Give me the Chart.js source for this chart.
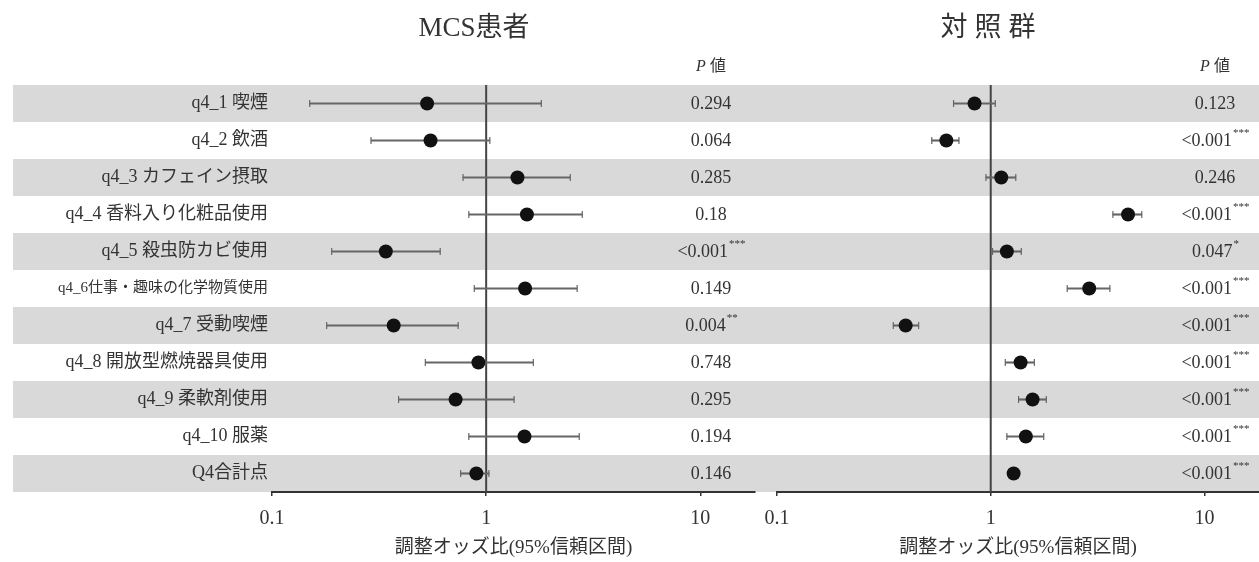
<!DOCTYPE html>
<html>
<head>
<meta charset="utf-8">
<script src="https://cdn.jsdelivr.net/npm/chart.js@4"></script>
<style>
  body { margin: 0; background: #fff; }
  #wrap { position: relative; width: 1259px; height: 562px; }
  .panel { position: absolute; top: 0; height: 562px; }
</style>
</head>
<body>
<div id="wrap">
  <div class="panel" style="left:0;width:760px"><canvas id="mcsCanvas"></canvas></div>
  <div class="panel" style="left:760px;width:499px"><canvas id="ctrlCanvas"></canvas></div>
</div>
<script>
// row labels (top to bottom)
const rowLabels = ['q4_1 喫煙', 'q4_2 飲酒', 'q4_3 カフェイン摂取', 'q4_4 香料入り化粧品使用',
    'q4_5 殺虫防カビ使用', 'q4_6仕事・趣味の化学物質使用', 'q4_7 受動喫煙', 'q4_8 開放型燃焼器具使用',
    'q4_9 柔軟剤使用', 'q4_10 服薬', 'Q4合計点'];

// MCS patients : odds ratio + 95% CI
const mcsOR   = [0.53, 0.55, 1.40, 1.55, 0.34, 1.52, 0.37, 0.92, 0.72, 1.51, 0.90];
const mcsLow  = [0.15, 0.29, 0.78, 0.83, 0.19, 0.88, 0.18, 0.52, 0.39, 0.83, 0.76];
const mcsHigh = [1.81, 1.04, 2.47, 2.81, 0.61, 2.66, 0.74, 1.66, 1.35, 2.72, 1.03];
const mcsP     = ['0.294', '0.064', '0.285', '0.18', '<0.001', '0.149', '0.004', '0.748', '0.295', '0.194', '0.146'];
const mcsStars = ['', '', '', '', '***', '', '**', '', '', '', ''];

// control group
const ctrlOR   = [0.84, 0.62, 1.12, 4.39, 1.19, 2.89, 0.40, 1.38, 1.57, 1.46, 1.28];
const ctrlLow  = [0.67, 0.53, 0.95, 3.73, 1.02, 2.28, 0.35, 1.17, 1.35, 1.19, 1.24];
const ctrlHigh = [1.05, 0.71, 1.31, 5.09, 1.39, 3.61, 0.46, 1.60, 1.82, 1.77, 1.32];
const ctrlP     = ['0.123', '<0.001', '0.246', '<0.001', '0.047', '<0.001', '<0.001', '<0.001', '<0.001', '<0.001', '<0.001'];
const ctrlStars = ['', '***', '', '***', '*', '***', '***', '***', '***', '***', '***'];

// x axis
const xTicks = [0.1, 1, 10];
const xMin = 0.1;
const xMax = 18;
const axisTitle = '調整オッズ比(95%信頼区間)';

const FONT = "'Liberation Serif', 'Noto Sans CJK JP', serif";
const TEXT = '#333';

function makePanel(canvasId, title, titleX, titleSpacing, ors, lows, highs, pvals, stars, showLabels) {
    // draws bands, reference line, caps and the text columns
    const forestPlugin = {
        id: 'forest',
        beforeDraw(chart) {
            const c = chart.ctx, y = chart.scales.y;
            const half = (y.getPixelForValue(1) - y.getPixelForValue(0)) / 2;
            const left = showLabels ? 13 : 0;
            c.save();
            c.fillStyle = '#d9d9d9';
            rowLabels.forEach((lab, i) => {
                if (i % 2 === 0) {
                    const py = y.getPixelForValue(i);
                    c.fillRect(left, py - half, chart.width - left, half * 2);
                }
            });
            c.restore();
        },
        beforeDatasetsDraw(chart) {
            const c = chart.ctx, x = chart.scales.x, y = chart.scales.y, a = chart.chartArea;
            c.save();
            // line at OR = 1
            c.strokeStyle = '#444';
            c.lineWidth = 2;
            c.beginPath();
            c.moveTo(x.getPixelForValue(1), a.top);
            c.lineTo(x.getPixelForValue(1), a.bottom);
            c.stroke();
            // whisker caps
            c.strokeStyle = '#666';
            c.lineWidth = 1.2;
            lows.forEach((lo, i) => {
                const py = y.getPixelForValue(i);
                [lo, highs[i]].forEach(v => {
                    const px = x.getPixelForValue(v);
                    c.beginPath();
                    c.moveTo(px, py - 3.5);
                    c.lineTo(px, py + 3.5);
                    c.stroke();
                });
            });
            c.restore();
        },
        afterDraw(chart) {
            const c = chart.ctx, y = chart.scales.y, a = chart.chartArea;
            const colX = a.right - 44;
            c.save();
            c.fillStyle = TEXT;
            c.textBaseline = 'middle';
            // panel title
            c.textAlign = 'center';
            c.font = '27px ' + FONT;
            c.letterSpacing = titleSpacing + 'px';
            c.fillText(title, titleX + titleSpacing / 2, 29);
            c.letterSpacing = '0px';
            // P値 header
            c.textAlign = 'left';
            c.font = 'italic 16px ' + FONT;
            const wP = c.measureText('P').width;
            c.font = '16px ' + FONT;
            const wV = c.measureText(' 値').width;
            let sx = colX - (wP + wV) / 2;
            c.font = 'italic 16px ' + FONT;
            c.fillText('P', sx, 67);
            c.font = '16px ' + FONT;
            c.fillText(' 値', sx + wP, 67);
            // p values
            pvals.forEach((p, i) => {
                const py = y.getPixelForValue(i);
                c.font = '18px ' + FONT;
                const w1 = c.measureText(p).width;
                c.font = '11px ' + FONT;
                const w2 = c.measureText(stars[i]).width;
                const start = colX - (w1 + w2) / 2;
                c.font = '18px ' + FONT;
                c.fillText(p, start, py + 1);
                c.font = '11px ' + FONT;
                c.fillText(stars[i], start + w1 + 1, py - 7);
            });
            c.restore();
        }
    };

    return new Chart(document.getElementById(canvasId), {
        type: 'bar',
        data: {
            labels: rowLabels,
            datasets: [{
                type: 'line',
                indexAxis: 'y',
                data: ors,
                showLine: false,
                pointRadius: 7,
                pointHoverRadius: 7,
                pointBackgroundColor: '#111',
                pointBorderWidth: 0,
                order: 0
            }, {
                type: 'bar',
                indexAxis: 'y',
                data: lows.map((lo, i) => [lo, highs[i]]),
                backgroundColor: '#666',
                barThickness: 1.5,
                order: 1
            }]
        },
        options: {
            indexAxis: 'y',
            responsive: true,
            maintainAspectRatio: false,
            animation: false,
            layout: {
                autoPadding: false,
                padding: { top: 85, bottom: 0, left: showLabels ? 0 : 17, right: showLabels ? 5 : 0 }
            },
            plugins: { legend: { display: false }, tooltip: { enabled: false } },
            scales: {
                y: {
                    type: 'category',
                    offset: true,
                    display: showLabels,
                    afterFit: s => { s.width = showLabels ? 272 : 0; },
                    grid: { display: false, drawTicks: false },
                    border: { display: false },
                    ticks: {
                        padding: 4,
                        color: TEXT,
                        font: ctx => ({ family: FONT, size: ctx.index === 5 ? 15 : 18 })
                    }
                },
                x: {
                    type: 'logarithmic',
                    min: xMin,
                    max: xMax,
                    afterBuildTicks: s => { s.ticks = xTicks.map(v => ({ value: v })); },
                    // fixed height, and no extra room for the end labels
                    afterFit: s => { s.height = 70; s.paddingLeft = 0; s.paddingRight = 0; },
                    grid: { display: true, drawOnChartArea: false, drawTicks: true, tickLength: 4, color: '#333', lineWidth: 1.5 },
                    border: { display: true, color: '#333', width: 2 },
                    ticks: {
                        callback: v => String(v),
                        autoSkip: false,
                        maxRotation: 0,
                        padding: 11,
                        color: TEXT,
                        font: { family: FONT, size: 20 }
                    },
                    title: {
                        display: true,
                        text: axisTitle,
                        color: TEXT,
                        font: { family: FONT, size: 19 },
                        padding: { top: 4, bottom: 3 }
                    }
                }
            }
        },
        plugins: [forestPlugin]
    });
}

document.addEventListener('DOMContentLoaded', function() {
    makePanel('mcsCanvas', 'MCS患者', 474, 0, mcsOR, mcsLow, mcsHigh, mcsP, mcsStars, true);
    makePanel('ctrlCanvas', '対照群', 228, 7, ctrlOR, ctrlLow, ctrlHigh, ctrlP, ctrlStars, false);
});
</script>
</body>
</html>
